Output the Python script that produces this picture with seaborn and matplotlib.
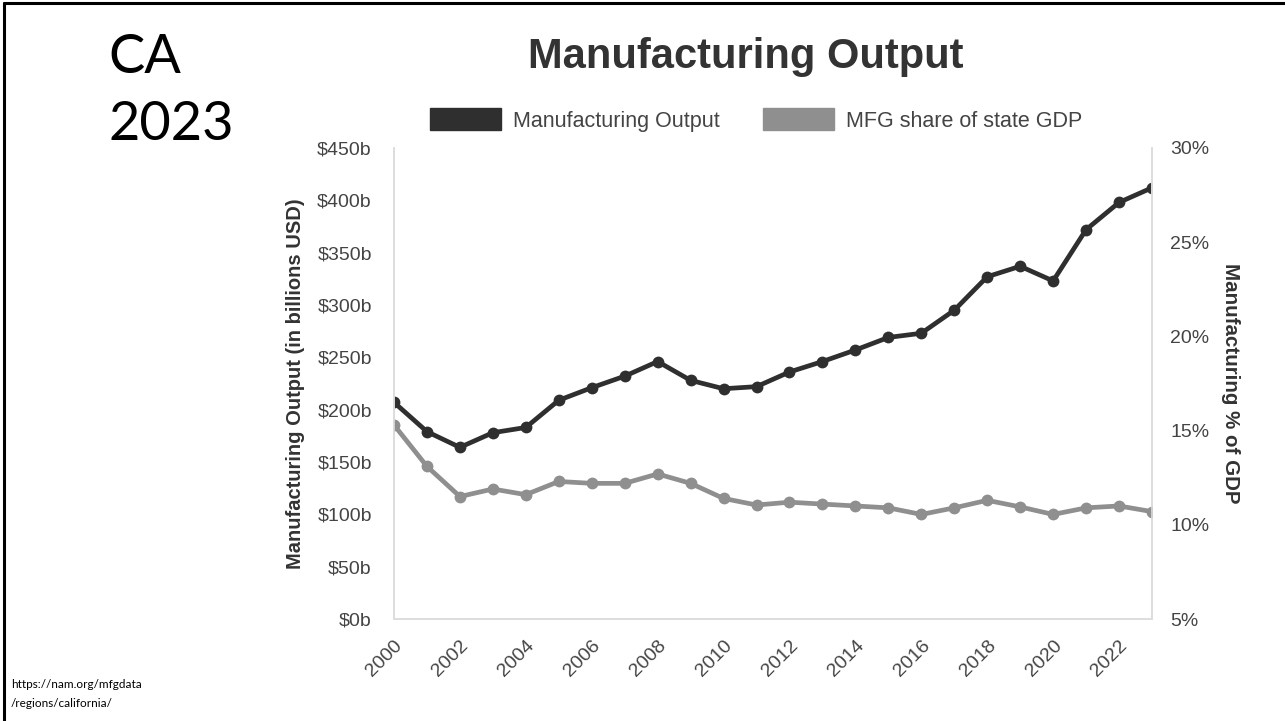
import numpy as np
import pandas as pd
import matplotlib
matplotlib.use("Agg")
import matplotlib.pyplot as plt
from matplotlib.patches import Patch
from matplotlib.lines import Line2D
import seaborn as sns

years = list(range(2000, 2024))
output_bn = [207, 179, 164, 178, 183, 209, 221, 232, 246, 228, 220, 222,
             236, 246, 257, 269, 273, 295, 327, 337, 323, 372, 398, 412]
share_pct = [15.3, 13.1, 11.5, 11.9, 11.6, 12.3, 12.2, 12.2, 12.7, 12.2, 11.4, 11.05,
             11.2, 11.1, 11.0, 10.9, 10.55, 10.9, 11.3, 10.95, 10.55, 10.9, 11.0, 10.7]
left_ticks = [0, 50, 100, 150, 200, 250, 300, 350, 400, 450]
right_ticks = [5, 10, 15, 20, 25, 30]
xtick_years = list(range(2000, 2024, 2))

title = "Manufacturing Output"
series_names = ["Manufacturing Output", "MFG share of state GDP"]

df = pd.DataFrame({"year": years, "output": output_bn, "share": share_pct})

sns.set_theme(style="white")
plt.rcParams['font.family'] = ['Liberation Sans', 'DejaVu Sans']

DARK = "#2f2f2f"
GRAY = "#8f8f8f"
TXT = "#444444"
SPINE = "#dddddd"

fig = plt.figure(figsize=(12.85, 7.21), dpi=100)
ax = fig.add_axes([394/1285, 1-619/721, (1152-394)/1285, (619-148)/721])
ax2 = ax.twinx()

sns.lineplot(data=df, x="year", y="share", ax=ax2, color=GRAY, linewidth=3.4,
             marker="o", markersize=8.5, markeredgewidth=0, legend=False)
sns.lineplot(data=df, x="year", y="output", ax=ax, color=DARK, linewidth=3.4,
             marker="o", markersize=8.5, markeredgewidth=0, legend=False)

ax.set_xlim(2000, 2023)
ax.set_ylim(0, 450)
ax2.set_ylim(5, 30)
ax.set_yticks(left_ticks)
ax.set_yticklabels([f"${v}b" for v in left_ticks])
ax2.set_yticks(right_ticks)
ax2.set_yticklabels([f"{v}%" for v in right_ticks])
ax.set_xticks(xtick_years)
ax.set_xticklabels([str(y) for y in xtick_years], rotation=45, ha="right",
                   rotation_mode="anchor")

for a in (ax, ax2):
    a.grid(False)
    a.set_facecolor("none")
    a.spines["top"].set_visible(False)
    for s in ["left", "right", "bottom"]:
        a.spines[s].set_color(SPINE)
        a.spines[s].set_linewidth(1.2)
    a.tick_params(length=0, labelsize=14, labelcolor=TXT)
ax.tick_params(axis="y", pad=16)
ax.tick_params(axis="x", pad=13)
ax2.tick_params(axis="y", pad=13)

ax.set_xlabel("")
ax.set_ylabel("Manufacturing Output (in billions USD)", fontsize=14.5,
              fontweight="bold", color="#333333", labelpad=9)
ax2.set_ylabel("Manufacturing % of GDP", fontsize=14.8, fontweight="bold",
               color="#333333", rotation=270, labelpad=22)

fig.text(746/1285, 1-57/721, title, ha="center", va="center", fontsize=30,
         fontweight="bold", color="#333333")

handles = [Patch(facecolor=DARK, edgecolor=DARK), Patch(facecolor=GRAY, edgecolor=GRAY)]
fig.legend(handles, series_names, loc="center", bbox_to_anchor=(756/1285, 1-120/721),
           ncol=2, frameon=False, fontsize=15.5, handlelength=3.3, handleheight=1.2,
           handletextpad=0.55, columnspacing=2.0, labelcolor=TXT)

fig.text(108/1285, 1-73/721, "CA", fontsize=39, family=["Lato", "DejaVu Sans"],
         color="black", ha="left", va="baseline")
fig.text(108/1285, 1-140/721, "2023", fontsize=39, family=["Lato", "DejaVu Sans"],
         color="black", ha="left", va="baseline")
fig.text(11/1285, 1-688/721, "https://nam.org/mfgdata", fontsize=8.5,
         family=["Lato", "DejaVu Sans"], color="black", ha="left", va="baseline")
fig.text(11/1285, 1-707/721, "/regions/california/", fontsize=8.5,
         family=["Lato", "DejaVu Sans"], color="black", ha="left", va="baseline")

fig.add_artist(Line2D([4/1285, 4/1285], [0, 1-3/721], transform=fig.transFigure,
                      color="black", linewidth=2.2))
fig.add_artist(Line2D([4/1285, 1], [1-3/721, 1-3/721], transform=fig.transFigure,
                      color="black", linewidth=2.2))

fig.savefig("out.png", dpi=100, facecolor="white")
